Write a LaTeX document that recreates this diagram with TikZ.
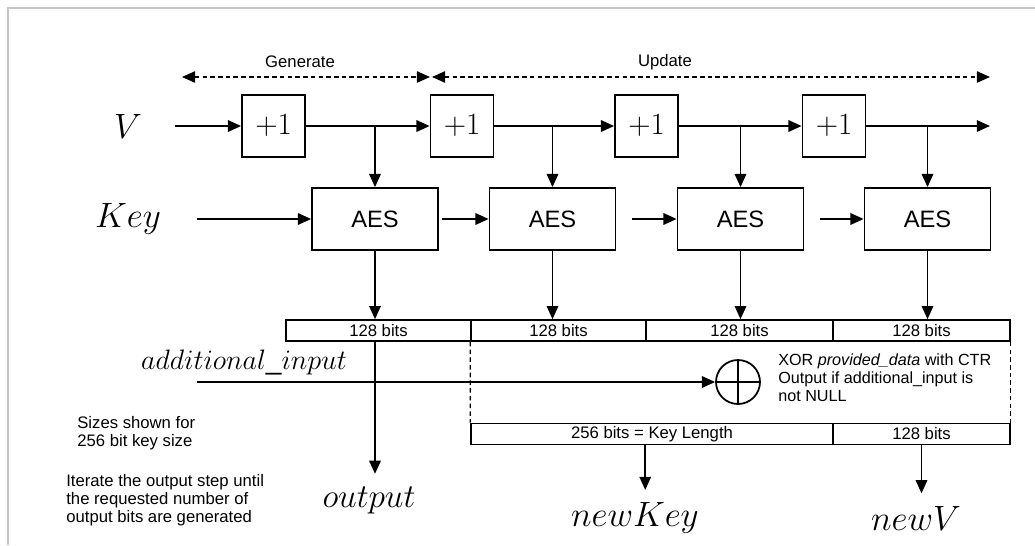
\RequirePackage{fix-cm}
\documentclass[tikz,border=0pt]{standalone}
\usepackage{fontspec}
\setmainfont{Liberation Sans}
\usetikzlibrary{arrows.meta}
\newcommand{\smallsans}{\fontsize{9.5}{10.3}\selectfont}
\begin{document}
\begin{tikzpicture}[x=0.02cm,y=-0.02cm,
    >={Triangle[length=7.5pt,width=6.5pt]},
    box/.style={draw,line width=1pt,inner sep=0pt},
    inc/.style={box,minimum width=1.26cm,minimum height=1.24cm,font=\fontsize{17.6}{20}\selectfont},
    aes/.style={box,minimum width=2.52cm,minimum height=1.24cm,font=\fontsize{13.5}{15}\selectfont},
    cell/.style={draw,line width=0.9pt,minimum height=0.42cm,inner sep=0pt,font=\smallsans},
    var/.style={font=\fontsize{20}{24}\selectfont,inner xsep=0pt,inner ysep=7pt},
    flow/.style={line width=1.1pt,->},
    span/.style={line width=0.8pt,dash pattern=on 2.6pt off 1.8pt,<->},
    gap/.style={line width=0.8pt,dash pattern=on 2.6pt off 1.8pt},
    note/.style={font=\smallsans,align=left,inner sep=0pt}]
  \useasboundingbox (0,0) rectangle (1035,545);
  \draw[gray!45,line width=0.6pt] (1035,8) -- (8,8) -- (8,545);
  % phases
  \node[note] (gen) at (300,62) {Generate};
  \node[note] (upd) at (665,62) {Update};
  \coordinate (g0) at (182,77);
  \coordinate (g1) at (430,77);
  \coordinate (u0) at (432,77);
  \coordinate (u1) at (990,77);
  \draw[span] (g0) -- (g1);
  \draw[span] (u0) -- (u1);
  % inputs
  \node[var] (V) at (128,126) {$V$};
  \node[var] (K) at (128,219) {$Key$};
  \node[var,font=\fontsize{16}{19}\selectfont] (ai) at (244,363) {$additional\_input$};
  \coordinate (vin) at (175,126);
  \coordinate (vout) at (990,126);
  \coordinate (kin) at (197,219);
  \coordinate (ain) at (197,382);
  % counters and ciphers
  \foreach \n/\px in {1/273.5,2/462,3/646.5,4/834}
    \node[inc] (p\n) at (\px,126) {$+1$};
  \foreach \n/\px in {1/375,2/552.5,3/740.5,4/927.5}
    \node[aes] (aes\n) at (\px,219) {AES};
  % blocks
  \node[cell,minimum width=3.7cm] (b1) at (378.5,330.5) {128 bits};
  \node[cell,minimum width=3.5cm] (b2) at (558.5,330.5) {128 bits};
  \node[cell,minimum width=3.74cm] (b3) at (739.5,330.5) {128 bits};
  \node[cell,minimum width=3.54cm] (b4) at (921.5,330.5) {128 bits};
  \node[cell,minimum width=7.24cm] (k1) at (652,434) {256 bits = Key Length};
  \node[cell,minimum width=3.54cm] (v1) at (921.5,434) {128 bits};
  \draw[gap] (b2.south west) -- (k1.north west);
  \draw[gap] (b4.south east) -- (v1.north east);
  % xor
  \node[circle,draw,line width=1pt,minimum size=0.88cm,inner sep=0pt] (xor) at (738,382) {};
  \draw[line width=1pt] (xor.north) -- (xor.south) (xor.west) -- (xor.east);
  \node[note,anchor=north west,font=\fontsize{9.2}{10.3}\selectfont] (xnote) at (778,353) {XOR \textit{provided\_data} with CTR\\Output if additional\_input is\\not NULL};
  % outputs
  \node[var,font=\fontsize{19}{23}\selectfont] (out) at (369,500) {$output$};
  \node[var] (nk) at (635,518) {$newKey$};
  \node[var] (nv) at (916,518) {$newV$};
  \node[note,anchor=north west] (sizes) at (77,416) {Sizes shown for\\256 bit key size};
  \node[note,anchor=north west] (iter) at (66,474) {Iterate the output step until\\the requested number of\\output bits are generated};
  % connections
  \draw[flow] (vin) -- (p1);
  \foreach \a/\b in {1/2,2/3,3/4}
    \draw[flow] (p\a) -- (p\b);
  \draw[flow] (p4) -- (vout);
  \foreach \n in {1,...,4}
    \draw[flow] (aes\n |- p\n) -- (aes\n.north);
  \draw[flow] (kin) -- (aes1.west);
  \draw[flow,shorten <=2pt] (aes1.east) -- (aes2.west);
  \draw[flow,shorten <=9pt] (aes2.east) -- (aes3.west);
  \draw[flow,shorten <=9pt] (aes3.east) -- (aes4.west);
  \foreach \n in {1,...,4}
    \draw[flow] (aes\n.south) -- (aes\n |- b\n.north);
  \draw[flow] (aes1 |- b1.south) -- (aes1 |- out.north);
  \draw[flow] (ain) -- (xor.west);
  \draw[flow] (b3.west |- k1.south) -- (b3.west |- nk.north);
  \draw[flow] (v1.south) -- (v1.south |- nv.north);
\end{tikzpicture}
\end{document}
